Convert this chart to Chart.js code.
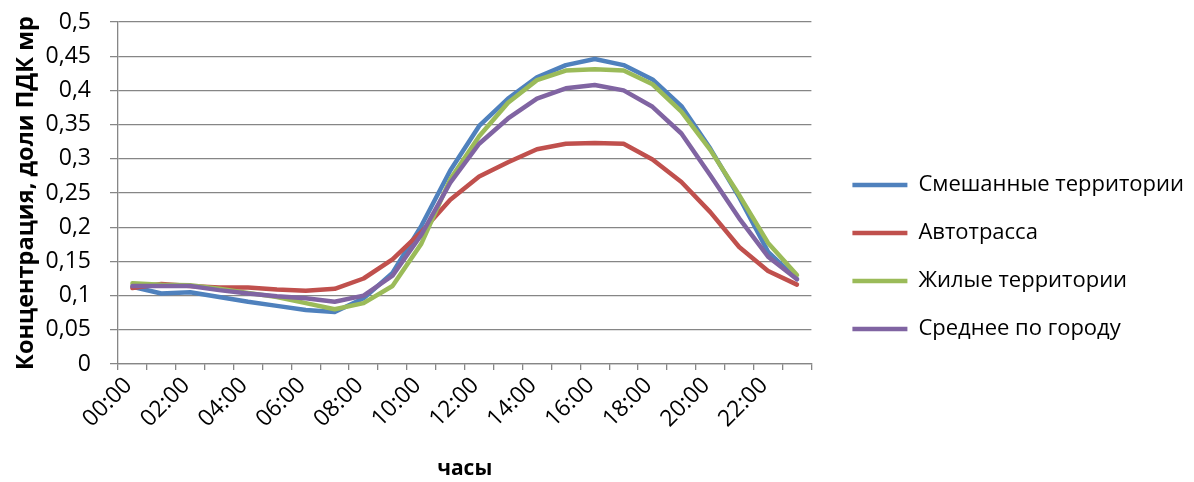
<!DOCTYPE html>
<html>
<head>
<meta charset="utf-8">
<title>Суточный ход концентрации</title>
<script src="https://cdn.jsdelivr.net/npm/chart.js@4.4.1/dist/chart.umd.min.js"></script>
<style>
  html, body { margin: 0; padding: 0; background: #ffffff; }
  #wrap { width: 1194px; height: 482px; }
</style>
</head>
<body>
<div id="wrap"><canvas id="chart" width="1194" height="482"></canvas></div>
<script>
// Hours of the day (category axis)
const hours = ['00:00','01:00','02:00','03:00','04:00','05:00','06:00','07:00',
               '08:00','09:00','10:00','11:00','12:00','13:00','14:00','15:00',
               '16:00','17:00','18:00','19:00','20:00','21:00','22:00','23:00'];

// Concentration, fractions of the one-time MPC
const mixedAreas  = [0.113,0.103,0.105,0.098,0.091,0.085,0.079,0.076,0.096,0.133,0.202,0.283,
                     0.348,0.388,0.419,0.437,0.446,0.437,0.416,0.377,0.315,0.244,0.164,0.124];
const highway     = [0.111,0.117,0.114,0.112,0.112,0.109,0.107,0.110,0.125,0.153,0.193,0.240,
                     0.274,0.295,0.314,0.322,0.323,0.322,0.299,0.266,0.222,0.171,0.136,0.116];
const residential = [0.118,0.116,0.115,0.110,0.104,0.098,0.089,0.080,0.089,0.114,0.176,0.270,
                     0.333,0.382,0.415,0.429,0.431,0.429,0.409,0.369,0.313,0.247,0.177,0.130];
const cityAverage = [0.114,0.114,0.114,0.108,0.103,0.099,0.096,0.091,0.100,0.129,0.189,0.265,
                     0.322,0.359,0.388,0.403,0.408,0.400,0.376,0.337,0.276,0.213,0.157,0.124];

const seriesNames = ['Смешанные территории', 'Автотрасса', 'Жилые территории', 'Среднее по городу'];
const seriesColors = ['#4F81BD', '#C0504D', '#9BBB59', '#8064A2'];

const yTitle = 'Концентрация, доли ПДК мр';
const xTitle = 'часы';

const FONT = '"Open Sans", "Noto Sans", sans-serif';
const LABEL_SIZE = 22;
const TICK_SIZE = 23;
const GRID = '#868686';

Chart.defaults.font.family = FONT;
Chart.defaults.color = '#000000';

// legend geometry
const legendPad = 26;
const legendLine = 55;
const measureCtx = document.createElement('canvas').getContext('2d');
measureCtx.font = LABEL_SIZE + 'px ' + FONT;
const widestName = Math.max(...seriesNames.map(n => measureCtx.measureText(n).width));
const rightPad = Math.max(0, 1194 - 857 - 10 - (legendLine + LABEL_SIZE / 2 + widestName));

const series = [mixedAreas, highway, residential, cityAverage];
const datasets = series.map((values, i) => ({
  label: seriesNames[i],
  data: values,
  yAxisID: 'y',
  borderColor: seriesColors[i],
  backgroundColor: seriesColors[i],
  borderWidth: 4.5,
  borderJoinStyle: 'round',
  borderCapStyle: 'round',
  tension: 0,
  pointRadius: 0,
  pointHoverRadius: 0,
  pointBorderWidth: 4.5,
  pointBorderColor: seriesColors[i],
  pointStyle: 'line',
  order: series.length - i
}));

new Chart(document.getElementById('chart'), {
  type: 'line',
  data: { labels: hours, datasets },
  options: {
    responsive: false,
    animation: false,
    devicePixelRatio: 1,
    layout: { padding: { top: 22, right: rightPad, bottom: 0, left: 0 } },
    plugins: {
      tooltip: { enabled: false },
      legend: {
        position: 'right',
        maxWidth: 600,
        title: { display: true, text: '', font: { size: 10, lineHeight: 1 }, padding: 0 },
        labels: {
          usePointStyle: true,
          pointStyle: 'line',
          pointStyleWidth: legendLine,
          padding: legendPad,
          font: { size: LABEL_SIZE },
          color: '#000000',
          sort: (a, b) => a.datasetIndex - b.datasetIndex
        }
      }
    },
    scales: {
      x: {
        type: 'category',
        offset: true,
        grid: { display: true, drawOnChartArea: false, drawTicks: true, tickLength: 6,
                offset: true, color: GRID, lineWidth: 1.3 },
        border: { display: true, color: GRID, width: 1.3 },
        ticks: {
          autoSkip: false,
          minRotation: 45,
          maxRotation: 45,
          padding: 2,
          labelOffset: -4,
          font: { size: TICK_SIZE },
          callback: (v, i) => (i % 2 === 0 ? hours[i] : '')
        },
        title: { display: true, text: xTitle, font: { size: 21, weight: 'bold' },
                 padding: { top: 4, bottom: 0 } },
        afterFit: s => { s.height = 118; }
      },
      y: {
        type: 'linear',
        position: 'left',
        min: 0,
        max: 0.5,
        // only the 8px next to the axis is visible; the rest of the tick length is label gap
        grid: { color: GRID, lineWidth: 1.3, drawTicks: true, tickLength: 27,
                tickBorderDash: [0, 19, 8] },
        border: { display: true, color: GRID, width: 1.3 },
        ticks: {
          stepSize: 0.05,
          padding: 0,
          font: { size: TICK_SIZE },
          callback: v => String(Math.round(v * 100) / 100).replace('.', ',')
        },
        title: { display: true, text: yTitle, font: { size: 23.5, weight: 'bold' },
                 padding: { top: 12, bottom: 0 } },
        afterFit: s => { s.width = 118; }
      },
      gap: {
        type: 'linear',
        position: 'right',
        display: true,
        grid: { display: false },
        border: { display: false },
        ticks: { display: false },
        afterFit: s => { s.width = 15; }
      }
    }
  }
});
</script>
</body>
</html>
